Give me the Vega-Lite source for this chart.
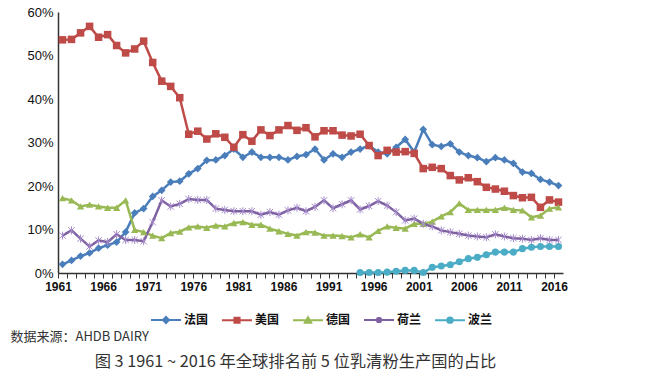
{
  "$schema": "https://vega.github.io/schema/vega-lite/v6.json",
  "width": 505,
  "height": 261,
  "autosize": {"type": "none"},
  "padding": {"left": 58, "top": 12, "right": 107, "bottom": 107},
  "background": "white",
  "config": {"view": {"stroke": null}},
  "title": {
    "text": "图 3 1961 ~ 2016 年全球排名前 5 位乳清粉生产国的占比",
    "orient": "bottom",
    "anchor": "middle",
    "frame": "group",
    "dx": -15,
    "offset": 11,
    "font": "Noto Sans CJK SC",
    "fontSize": 16.3,
    "fontWeight": "normal",
    "color": "#333333",
    "baseline": "top"
  },
  "data": {
    "values": [
      {"year": 1961, "法国": 2.0, "美国": 53.6, "德国": 17.2, "荷兰": 8.6},
      {"year": 1962, "法国": 2.9, "美国": 53.7, "德国": 16.7, "荷兰": 9.8},
      {"year": 1963, "法国": 3.9, "美国": 55.2, "德国": 15.3, "荷兰": 7.9},
      {"year": 1964, "法国": 4.6, "美国": 56.7, "德国": 15.7, "荷兰": 6.1},
      {"year": 1965, "法国": 5.7, "美国": 54.2, "德国": 15.3, "荷兰": 7.5},
      {"year": 1966, "法国": 6.4, "美国": 54.8, "德国": 15.0, "荷兰": 7.1},
      {"year": 1967, "法国": 7.1, "美国": 52.3, "德国": 15.0, "荷兰": 8.9},
      {"year": 1968, "法国": 9.4, "美国": 50.6, "德国": 16.7, "荷兰": 7.6},
      {"year": 1969, "法国": 13.8, "美国": 51.5, "德国": 9.9, "荷兰": 7.6},
      {"year": 1970, "法国": 14.8, "美国": 53.3, "德国": 9.4, "荷兰": 7.3},
      {"year": 1971, "法国": 17.6, "美国": 48.4, "德国": 8.6, "荷兰": 11.7},
      {"year": 1972, "法国": 19.0, "美国": 44.1, "德国": 8.0, "荷兰": 16.7},
      {"year": 1973, "法国": 20.9, "美国": 42.9, "德国": 9.2, "荷兰": 15.3},
      {"year": 1974, "法国": 21.1, "美国": 40.3, "德国": 9.5, "荷兰": 15.9},
      {"year": 1975, "法国": 22.8, "美国": 31.9, "德国": 10.5, "荷兰": 17.0},
      {"year": 1976, "法国": 24.0, "美国": 32.6, "德国": 10.7, "荷兰": 16.8},
      {"year": 1977, "法国": 25.9, "美国": 30.8, "德国": 10.4, "荷兰": 16.8},
      {"year": 1978, "法国": 26.0, "美国": 32.0, "德国": 10.9, "荷兰": 14.8},
      {"year": 1979, "法国": 27.0, "美国": 31.2, "德国": 10.7, "荷兰": 14.5},
      {"year": 1980, "法国": 28.5, "美国": 28.9, "德国": 11.5, "荷兰": 14.2},
      {"year": 1981, "法国": 26.6, "美国": 31.8, "德国": 11.7, "荷兰": 14.2},
      {"year": 1982, "法国": 27.8, "美国": 30.3, "德国": 11.1, "荷兰": 14.2},
      {"year": 1983, "法国": 26.6, "美国": 32.9, "德国": 11.1, "荷兰": 13.4},
      {"year": 1984, "法国": 26.6, "美国": 31.6, "德国": 10.2, "荷兰": 14.0},
      {"year": 1985, "法国": 26.6, "美国": 32.9, "德国": 9.6, "荷兰": 13.4},
      {"year": 1986, "法国": 26.0, "美国": 33.9, "德国": 9.0, "荷兰": 14.4},
      {"year": 1987, "法国": 26.8, "美国": 32.8, "德国": 8.6, "荷兰": 15.0},
      {"year": 1988, "法国": 27.2, "美国": 33.4, "德国": 9.4, "荷兰": 14.2},
      {"year": 1989, "法国": 28.5, "美国": 31.3, "德国": 9.3, "荷兰": 15.2},
      {"year": 1990, "法国": 26.0, "美国": 32.7, "德国": 8.6, "荷兰": 16.7},
      {"year": 1991, "法国": 27.4, "美国": 32.7, "德国": 8.6, "荷兰": 14.9},
      {"year": 1992, "法国": 26.6, "美国": 31.7, "德国": 8.5, "荷兰": 15.8},
      {"year": 1993, "法国": 27.8, "美国": 31.5, "德国": 8.2, "荷兰": 16.7},
      {"year": 1994, "法国": 28.5, "美国": 31.9, "德国": 8.9, "荷兰": 14.6, "波兰": 0.1},
      {"year": 1995, "法国": 29.3, "美国": 29.3, "德国": 8.2, "荷兰": 15.4, "波兰": 0.1},
      {"year": 1996, "法国": 27.8, "美国": 27.0, "德国": 9.7, "荷兰": 16.5, "波兰": 0.1},
      {"year": 1997, "法国": 27.4, "美国": 28.2, "德国": 10.7, "荷兰": 15.5, "波兰": 0.2},
      {"year": 1998, "法国": 28.9, "美国": 27.8, "德国": 10.4, "荷兰": 14.0, "波兰": 0.4},
      {"year": 1999, "法国": 30.7, "美国": 27.9, "德国": 10.2, "荷兰": 12.1, "波兰": 0.6},
      {"year": 2000, "法国": 27.8, "美国": 27.5, "德国": 11.3, "荷兰": 12.5, "波兰": 0.6},
      {"year": 2001, "法国": 33.0, "美国": 24.0, "德国": 11.3, "荷兰": 11.3, "波兰": 0.1},
      {"year": 2002, "法国": 29.5, "美国": 24.3, "德国": 11.8, "荷兰": 10.7, "波兰": 1.3},
      {"year": 2003, "法国": 29.1, "美国": 24.0, "德国": 13.0, "荷兰": 9.8, "波兰": 1.6},
      {"year": 2004, "法国": 29.7, "美国": 22.4, "德国": 14.0, "荷兰": 9.4, "波兰": 1.9},
      {"year": 2005, "法国": 27.8, "美国": 21.4, "德国": 16.0, "荷兰": 9.0, "波兰": 2.6},
      {"year": 2006, "法国": 27.0, "美国": 21.9, "德国": 14.5, "荷兰": 8.6, "波兰": 3.3},
      {"year": 2007, "法国": 26.5, "美国": 21.0, "德国": 14.5, "荷兰": 8.4, "波兰": 3.6},
      {"year": 2008, "法国": 25.6, "美国": 19.7, "德国": 14.5, "荷兰": 8.2, "波兰": 4.2},
      {"year": 2009, "法国": 26.5, "美国": 19.3, "德国": 14.5, "荷兰": 8.9, "波兰": 4.8},
      {"year": 2010, "法国": 26.0, "美国": 18.8, "德国": 15.0, "荷兰": 8.4, "波兰": 4.8},
      {"year": 2011, "法国": 25.2, "美国": 17.8, "德国": 14.5, "荷兰": 8.0, "波兰": 4.8},
      {"year": 2012, "法国": 23.2, "美国": 17.3, "德国": 14.4, "荷兰": 7.9, "波兰": 5.6},
      {"year": 2013, "法国": 22.9, "美国": 17.4, "德国": 12.8, "荷兰": 7.6, "波兰": 5.9},
      {"year": 2014, "法国": 21.5, "美国": 15.1, "德国": 13.2, "荷兰": 8.0, "波兰": 6.1},
      {"year": 2015, "法国": 20.9, "美国": 16.8, "德国": 14.8, "荷兰": 7.6, "波兰": 6.1},
      {"year": 2016, "法国": 20.1, "美国": 16.3, "德国": 15.1, "荷兰": 7.6, "波兰": 6.1}
    ]
  },
  "transform": [
    {"fold": ["法国", "美国", "德国", "荷兰", "波兰"], "as": ["country", "value"]},
    {"filter": "isValid(datum.value)"}
  ],
  "encoding": {
    "x": {
      "field": "year",
      "type": "quantitative",
      "scale": {"domain": [1960.5, 2016.5], "nice": false, "zero": false},
      "axis": {
        "title": "数据来源：AHDB DAIRY",
        "titleFont": "Noto Sans CJK SC",
        "titleFontSize": 13,
        "titleFontWeight": "normal",
        "titleColor": "#333333",
        "titleAnchor": "start",
        "titleAlign": "left",
        "titleBaseline": "top",
        "titleX": -48,
        "titleY": 57,
        "values": [1961, 1962, 1963, 1964, 1965, 1966, 1967, 1968, 1969, 1970, 1971, 1972, 1973, 1974, 1975, 1976, 1977, 1978, 1979, 1980, 1981, 1982, 1983, 1984, 1985, 1986, 1987, 1988, 1989, 1990, 1991, 1992, 1993, 1994, 1995, 1996, 1997, 1998, 1999, 2000, 2001, 2002, 2003, 2004, 2005, 2006, 2007, 2008, 2009, 2010, 2011, 2012, 2013, 2014, 2015, 2016, 2017],
        "format": "d",
        "labelExpr": "(datum.value - 1961) % 5 === 0 && datum.value < 2017 ? datum.label : ''",
        "tickOffset": -4.5,
        "labelOverlap": false,
        "labelFlush": false,
        "labelBound": false,
        "grid": false,
        "tickSize": 5,
        "tickColor": "#333333",
        "tickWidth": 1,
        "domainColor": "#333333",
        "domainWidth": 1.5,
        "labelFont": "Liberation Sans",
        "labelFontSize": 12,
        "labelFontWeight": "bold",
        "labelColor": "#111111",
        "labelPadding": 3
      }
    },
    "y": {
      "field": "value",
      "type": "quantitative",
      "scale": {"domain": [0, 60], "nice": false},
      "axis": {
        "title": null,
        "values": [0, 10, 20, 30, 40, 50, 60],
        "labelExpr": "datum.value + '%'",
        "grid": false,
        "tickSize": 0,
        "domainColor": "#333333",
        "domainWidth": 1.5,
        "labelFont": "Liberation Sans",
        "labelFontSize": 13,
        "labelColor": "#111111",
        "labelPadding": 5
      }
    }
  },
  "layer": [
    {
      "mark": {"type": "line", "strokeWidth": 2.5},
      "encoding": {
        "color": {
          "field": "country",
          "type": "nominal",
          "scale": {
            "domain": ["法国", "美国", "德国", "荷兰", "波兰"],
            "range": ["#4A7EBB", "#BE4B48", "#98B954", "#7D60A0", "#4BACC6"]
          },
          "legend": {
            "title": null,
            "orient": "none",
            "legendX": 92,
            "legendY": 292,
            "direction": "horizontal",
            "columns": 5,
            "symbolSize": 900,
            "labelFont": "Noto Sans CJK SC",
            "labelFontSize": 12,
            "labelFontWeight": "bold",
            "labelColor": "#111111",
            "labelOffset": 2,
            "columnPadding": 9,
            "encode": {
              "symbols": {
                "update": {
                  "shape": {"signal": "datum.value === '法国' ? 'M-1,0L1,0M0,-0.2L0.2,0L0,0.2L-0.2,0Z' : datum.value === '美国' ? 'M-1,0L1,0M-0.17,-0.17L0.17,-0.17L0.17,0.17L-0.17,0.17Z' : datum.value === '德国' ? 'M-1,0L1,0M0,-0.2L0.21,0.16L-0.21,0.16Z' : datum.value === '荷兰' ? 'M-1,0L1,0M-0.16,-0.16L0.16,0.16M-0.16,0.16L0.16,-0.16M0,-0.2L0,0.2' : 'M-1,0L1,0M-0.18,0A0.18,0.18,0,1,1,0.18,0A0.18,0.18,0,1,1,-0.18,0Z'"},
                  "size": {"value": 900},
                  "strokeWidth": {"value": 2},
                  "stroke": {"scale": "color", "field": "value"},
                  "fill": {"scale": "color", "field": "value"},
                  "opacity": {"value": 1},
                  "fillOpacity": {"value": 1},
                  "strokeOpacity": {"value": 1}
                }
              }
            }
          }
        }
      }
    },
    {
      "transform": [{"filter": "datum.country !== '荷兰'"}],
      "mark": {"type": "point", "filled": true, "opacity": 1},
      "encoding": {
        "color": {"field": "country", "type": "nominal"},
        "shape": {
          "field": "country",
          "type": "nominal",
          "scale": {"domain": ["法国", "美国", "德国", "波兰"], "range": ["diamond", "square", "triangle-up", "circle"]},
          "legend": null
        },
        "size": {
          "field": "country",
          "type": "nominal",
          "scale": {"domain": ["法国", "美国", "德国", "波兰"], "range": [60, 50, 55, 64]},
          "legend": null
        }
      }
    },
    {
      "transform": [{"filter": "datum.country === '荷兰'"}],
      "mark": {
        "type": "point",
        "filled": false,
        "shape": "M-0.8,-0.8L0.8,0.8M-0.8,0.8L0.8,-0.8M0,-1L0,1",
        "size": 64,
        "stroke": "#A58BCB",
        "strokeWidth": 1,
        "opacity": 1
      }
    }
  ]
}
